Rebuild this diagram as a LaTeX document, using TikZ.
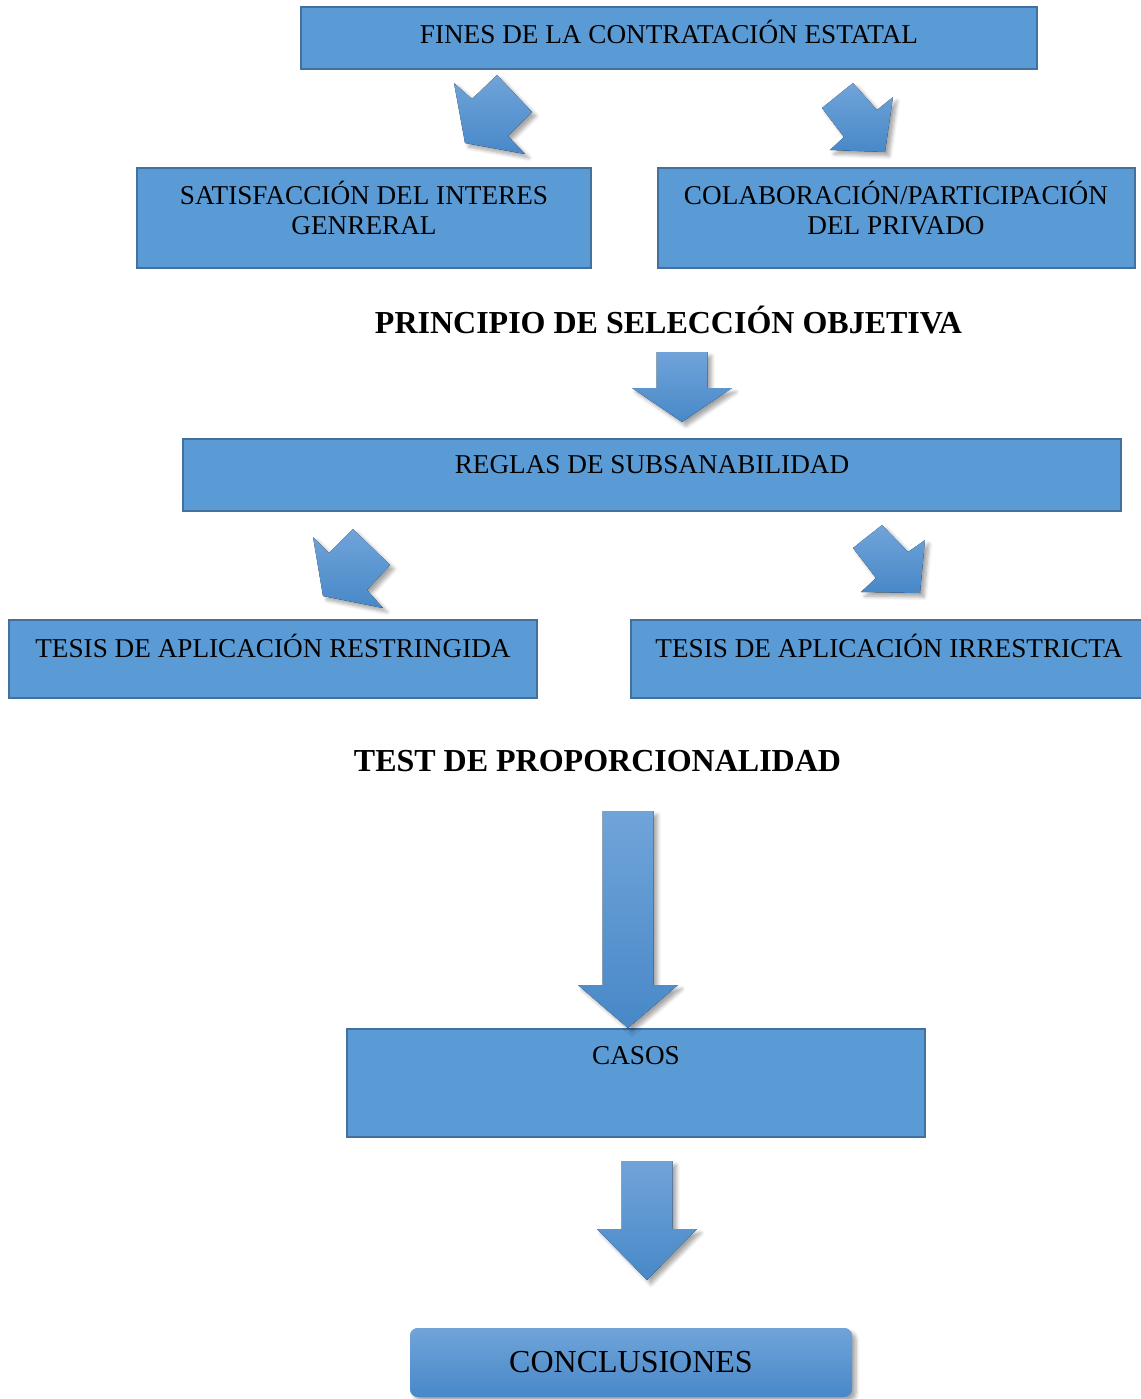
\documentclass[tikz,border=0pt]{standalone}
\usepackage{fontspec}
\setmainfont{Liberation Serif}
\usetikzlibrary{shadows.blur}
\definecolor{cajaazul}{HTML}{5B9BD5}
\definecolor{bordeazul}{HTML}{41719C}
\definecolor{flechaclaro}{HTML}{70A4D9}
\definecolor{flechaoscuro}{HTML}{4888C8}

\begin{document}
\begin{tikzpicture}[x=0.5pt,y=-0.5pt,
	caja/.style={draw=bordeazul,line width=1pt,fill=cajaazul,inner sep=0pt},
	rotulo/.style={font=\fontsize{13.6}{15}\selectfont,align=center,inner sep=0pt},
	titulo/.style={font=\bfseries\fontsize{16}{19}\selectfont,inner sep=0pt},
	flecha/.style={top color=flechaclaro,bottom color=flechaoscuro,
		blur shadow={shadow xshift=2pt,shadow yshift=-2pt,shadow blur steps=6,shadow opacity=35}}]
	\useasboundingbox (0,0) rectangle (1141,1399);
	% cajas
	\foreach \N/\X/\Y/\W/\H in {fines/669/38/736/62, satis/364/218/454/100,
		colab/896.5/218/477/100, reglas/652/475/938/72, restr/273/659/528/78,
		irre/890.5/659/519/78, casos/636/1083/578/108}
	{\node[caja,minimum width=\W*0.5pt,minimum height=\H*0.5pt] (\N) at (\X,\Y) {};}
	\node[rotulo] (tfines) at (669,32) {FINES DE LA CONTRATACIÓN ESTATAL};
	\node[rotulo] (tsatis) at (364,208) {SATISFACCIÓN DEL INTERES\\GENRERAL};
	\node[rotulo] (tcolab) at (896,208) {COLABORACIÓN/PARTICIPACIÓN\\DEL PRIVADO};
	\node[titulo] (principio) at (668.5,320) {PRINCIPIO DE SELECCIÓN OBJETIVA};
	\node[rotulo] (treglas) at (652,465) {REGLAS DE SUBSANABILIDAD};
	\node[rotulo] (trestr) at (273,646) {TESIS DE APLICACIÓN RESTRINGIDA};
	\node[rotulo] (tirre) at (889,646) {TESIS DE APLICACIÓN IRRESTRICTA};
	\node[titulo] (test) at (597.5,761) {TEST DE PROPORCIONALIDAD};
	\node[rotulo] (tcasos) at (636,1056) {CASOS};
	\node[caja,draw=none,flecha,rounded corners=4pt,minimum width=221pt,
		minimum height=34.5pt,font=\fontsize{16}{18}\selectfont] (concl) at (631,1362.5) {CONCLUSIONES};
	% flechas inclinadas
	\fill[flecha] (454,83) -- (472,99) -- (497,75) -- (532,112) -- (508,136) -- (525,154) -- (465,143) -- cycle;
	\fill[flecha] (822,108) -- (853,83) -- (877,110) -- (893,97) -- (885,152) -- (830,150) -- (844,137) -- cycle;
	\fill[flecha] (313,537) -- (329,553) -- (353,529) -- (390,565) -- (367,590) -- (383,608) -- (323,596) -- cycle;
	\fill[flecha] (853,548) -- (882,525) -- (908,552) -- (925,540) -- (920,593) -- (861,592) -- (876,578) -- cycle;
	% flechas hacia abajo
	\foreach \X/\T/\B/\P in {682/352/388/422, 628/811/985/1028, 647/1161/1229/1280}
	{\fill[flecha] (\X-25.5,\T) -- (\X+25.5,\T) -- (\X+25.5,\B) -- (\X+50,\B) -- (\X,\P)
		-- (\X-50,\B) -- (\X-25.5,\B) -- cycle;}
\end{tikzpicture}
\end{document}
